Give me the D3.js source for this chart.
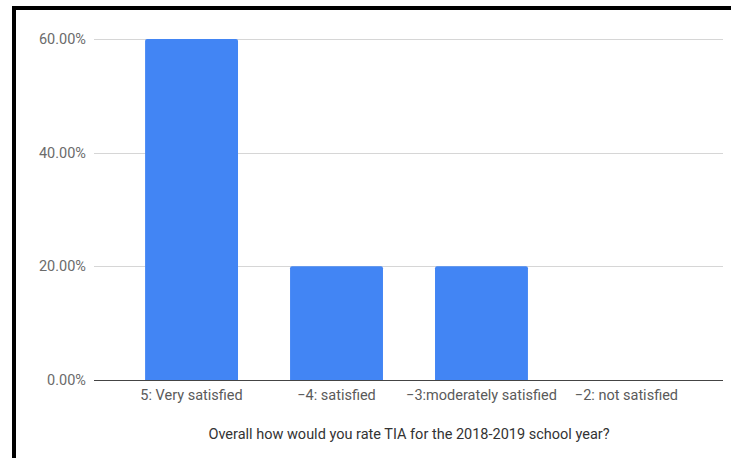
<!DOCTYPE html>
<html>
<head>
<meta charset="utf-8">
<script src="https://cdn.jsdelivr.net/npm/d3@7"></script>
<style>
  body { margin: 0; background: #fff; }
  text { font-family: Roboto, "Noto Sans", sans-serif; }
</style>
</head>
<body>
<script>
// chart data
var categories = ["5: Very satisfied", "\u22124: satisfied", "\u22123:moderately satisfied", "\u22122: not satisfied"];
var values = [60, 20, 20, 0];
var yTicks = [0, 20, 40, 60];
var xTitle = "Overall how would you rate TIA for the 2018-2019 school year?";

draw();

function draw() {
    let width = 731,
        height = 458;

    let svg = d3.select("body").append("svg")
        .attr("width", width)
        .attr("height", height);

    // black frame on top and left
    svg.append("rect").attr("x", 12).attr("y", 6).attr("width", width - 12).attr("height", 4).attr("fill", "#000");
    svg.append("rect").attr("x", 12).attr("y", 6).attr("width", 4).attr("height", height - 6).attr("fill", "#000");

    let x = d3.scaleBand()
        .domain(categories)
        .range([119, 699])
        .paddingInner(0.359)
        .paddingOuter(0.18);

    let y = d3.scaleLinear()
        .domain([0, 60])
        .range([380, 39]);

    // gridlines
    svg.append("g")
        .selectAll("line")
        .data(yTicks.filter(t => t > 0))
        .join("line")
            .attr("x1", 94)
            .attr("x2", 723)
            .attr("y1", d => Math.round(y(d)) + 0.5)
            .attr("y2", d => Math.round(y(d)) + 0.5)
            .attr("stroke", "#d6d6d6");

    // y tick labels
    svg.append("g")
        .selectAll("text")
        .data(yTicks)
        .join("text")
            .attr("x", 86)
            .attr("y", d => y(d))
            .attr("dy", "0.35em")
            .attr("text-anchor", "end")
            .attr("font-size", 14.5)
            .attr("fill", "#6b6b6b")
            .text(d => d.toFixed(2) + "%");

    // bars with slightly rounded tops
    let r = 2;
    svg.append("g")
        .selectAll("path")
        .data(values.map((v, i) => ({cat: categories[i], v: v})))
        .join("path")
            .attr("fill", "#4285f4")
            .attr("d", d => {
                let x0 = x(d.cat), x1 = x0 + x.bandwidth();
                let y0 = y(0), y1 = y(d.v);
                if (d.v <= 0) return "";
                return "M" + x0 + "," + y0 +
                       "V" + (y1 + r) +
                       "Q" + x0 + "," + y1 + " " + (x0 + r) + "," + y1 +
                       "H" + (x1 - r) +
                       "Q" + x1 + "," + y1 + " " + x1 + "," + (y1 + r) +
                       "V" + y0 + "Z";
            });

    // baseline
    svg.append("line")
        .attr("x1", 94)
        .attr("x2", 723)
        .attr("y1", 380.5)
        .attr("y2", 380.5)
        .attr("stroke", "#444")
        .attr("stroke-width", 1.2);

    // category labels
    svg.append("g")
        .selectAll("text")
        .data(categories)
        .join("text")
            .attr("x", d => x(d) + x.bandwidth() / 2)
            .attr("y", 395)
            .attr("dy", "0.35em")
            .attr("text-anchor", "middle")
            .attr("font-size", 14.5)
            .attr("fill", "#5a5a5a")
            .text(d => d);

    // axis title
    svg.append("text")
        .attr("x", 409)
        .attr("y", 434)
        .attr("dy", "0.35em")
        .attr("text-anchor", "middle")
        .attr("font-size", 14.5)
        .attr("fill", "#333")
        .text(xTitle);
}
</script>
</body>
</html>
